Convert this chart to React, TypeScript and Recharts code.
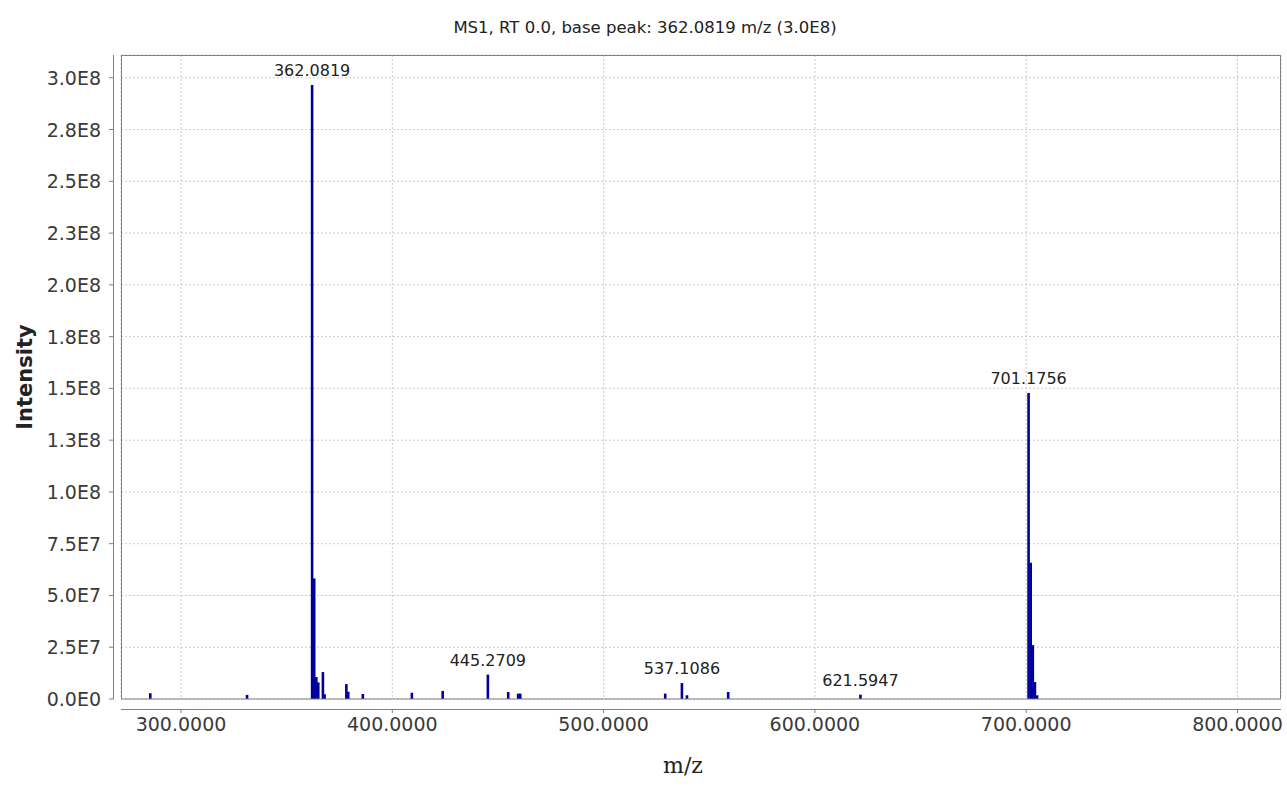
import { Bar, BarChart, CartesianGrid, LabelList, XAxis, YAxis } from "recharts";

const peakMz = [
  285.5, 331.3, 362.0819, 363.08, 364.08, 365.0, 367.2, 368.0, 378.3, 379.2, 386.1, 409.3, 423.9,
  445.2709, 454.9, 459.6, 460.6, 529.2, 537.1086, 539.5, 559.0, 621.5947, 701.1756, 702.18, 703.18,
  704.18, 705.18
];
const peakIntensity = [
  2.8e6, 2.0e6, 2.965e8, 5.82e7, 1.06e7, 8.0e6, 1.3e7, 2.3e6, 7.2e6, 3.5e6, 2.4e6, 3.0e6, 3.9e6,
  1.18e7, 3.4e6, 2.6e6, 2.6e6, 2.6e6, 7.7e6, 1.8e6, 3.4e6, 2.1e6, 1.478e8, 6.58e7, 2.6e7, 8.2e6,
  1.8e6
];
const labeledPeaks = [362.0819, 445.2709, 537.1086, 621.5947, 701.1756];

const xTicks = [300, 400, 500, 600, 700, 800];
const xTickLabels = ["300.0000", "400.0000", "500.0000", "600.0000", "700.0000", "800.0000"];
const yTicks = [0, 2.5e7, 5e7, 7.5e7, 1e8, 1.25e8, 1.5e8, 1.75e8, 2e8, 2.25e8, 2.5e8, 2.75e8, 3e8];
const yTickLabels = [
  "0.0E0", "2.5E7", "5.0E7", "7.5E7", "1.0E8", "1.3E8", "1.5E8", "1.8E8", "2.0E8", "2.3E8", "2.5E8",
  "2.8E8", "3.0E8"
];

const data = peakMz.map((mz, i) => ({
  mz,
  intensity: peakIntensity[i],
  label: labeledPeaks.includes(mz) ? mz.toFixed(4) : ""
}));

const FONT = "'DejaVu Sans', sans-serif";
const AXIS_GRAY = "#808080";
const PEAK_WIDTH = 2.6;

const XTick = (props: any) => {
  const { x, payload } = props;
  const label = xTickLabels[xTicks.indexOf(payload.value)];
  return (
    <g>
      <line x1={x} x2={x} y1={709} y2={713} stroke={AXIS_GRAY} />
      <text x={x} y={731} textAnchor="middle" fontFamily={FONT} fontSize={19} fill="#3a3a3a">
        {label}
      </text>
    </g>
  );
};

const YTick = (props: any) => {
  const { y, payload } = props;
  const label = yTickLabels[yTicks.indexOf(payload.value)];
  return (
    <g>
      <line x1={109} x2={113} y1={y} y2={y} stroke={AXIS_GRAY} />
      <text x={101} y={y + 7} textAnchor="end" fontFamily={FONT} fontSize={19} fill="#3a3a3a">
        {label}
      </text>
    </g>
  );
};

// peaks drawn as thin centred sticks
const PeakShape = (props: any) => {
  const { x, y, width, height } = props;
  if (!height || height <= 0) return null;
  const cx = x + width / 2;
  return <rect x={cx - PEAK_WIDTH / 2} y={y} width={PEAK_WIDTH} height={height} fill="#00009c" />;
};

const PeakLabel = (props: any) => {
  const { x, y, width, value } = props;
  if (!value) return null;
  return (
    <text x={x + width / 2} y={y - 9} textAnchor="middle" fontFamily={FONT} fontSize={16} fill="#222">
      {value}
    </text>
  );
};

export default function App() {
  return (
    <div style={{ position: "absolute", left: 0, top: 0, width: 1287, height: 803, background: "#fff" }}>
      <BarChart
        width={1287}
        height={803}
        data={data}
        margin={{ top: 55, right: 6, left: 0, bottom: 0 }}
        barCategoryGap={0}
      >
        <CartesianGrid stroke="#cccccc" strokeDasharray="2 2" />
        <XAxis
          dataKey="mz"
          type="number"
          domain={[271.6, 820.6]}
          allowDataOverflow
          ticks={xTicks}
          height={104}
          axisLine={false}
          tickLine={false}
          tick={XTick}
          interval={0}
        />
        <YAxis
          type="number"
          domain={[0, 3.11e8]}
          allowDataOverflow
          ticks={yTicks}
          width={121}
          axisLine={false}
          tickLine={false}
          tick={YTick}
          interval={0}
        />
        <Bar dataKey="intensity" fill="#00009c" barSize={2} shape={PeakShape} isAnimationActive={false}>
          <LabelList dataKey="label" content={PeakLabel} />
        </Bar>
      </BarChart>
      <svg
        width={1287}
        height={803}
        style={{ position: "absolute", left: 0, top: 0, pointerEvents: "none" }}
      >
        <rect x={121.5} y={55.5} width={1159} height={643.5} fill="none" stroke={AXIS_GRAY} />
        <line x1={113.5} x2={113.5} y1={55} y2={699.5} stroke={AXIS_GRAY} />
        <line x1={121} x2={1281} y1={709.5} y2={709.5} stroke={AXIS_GRAY} />
        <text x={645} y={33} textAnchor="middle" fontFamily={FONT} fontSize={16.5} fill="#222">
          MS1, RT 0.0, base peak: 362.0819 m/z (3.0E8)
        </text>
        <text
          x={0}
          y={0}
          transform="translate(32 377) rotate(-90)"
          textAnchor="middle"
          fontFamily={FONT}
          fontWeight="bold"
          fontSize={21}
          fill="#222"
        >
          Intensity
        </text>
        <text x={683} y={773} textAnchor="middle" fontFamily="'DejaVu Serif', serif" fontSize={22} fill="#222">
          m/z
        </text>
      </svg>
    </div>
  );
}
